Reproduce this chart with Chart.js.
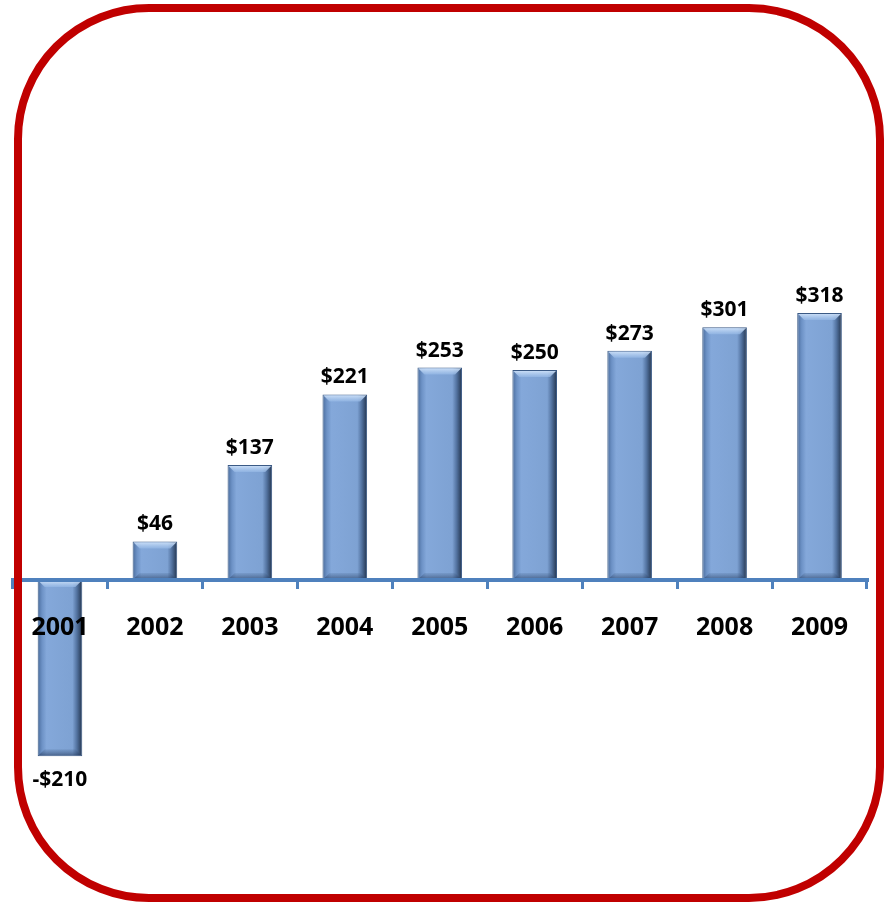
<!DOCTYPE html>
<html>
<head>
<meta charset="utf-8">
<script src="https://cdn.jsdelivr.net/npm/chart.js@4.4.1/dist/chart.umd.min.js"></script>
<style>
  html, body { margin: 0; padding: 0; background: #fff; }
  #wrap { position: relative; width: 889px; height: 903px; }
  #frame {
    position: absolute; left: 14px; top: 4px; width: 870px; height: 898px;
    box-sizing: border-box; border: 8px solid #c00000; border-radius: 135px;
    pointer-events: none;
  }
  canvas { position: absolute; left: 0; top: 0; }
</style>
</head>
<body>
<div id="wrap">
  <canvas id="profitChart" width="889" height="903"></canvas>
  <div id="frame"></div>
</div>
<script>
// --- DATA ---
const years = ['2001', '2002', '2003', '2004', '2005', '2006', '2007', '2008', '2009'];
const values = [-210, 46, 137, 221, 253, 250, 273, 301, 318];
const valueLabels = ['-$210', '$46', '$137', '$221', '$253', '$250', '$273', '$301', '$318'];

const BAR_PCT = 0.47;
const FONT = '"Open Sans", Lato, sans-serif';

// horizontal gradient so each bar looks bevelled
function barFill(ctx) {
    const chart = ctx.chart;
    const xs = chart.scales.x;
    if (!chart.chartArea || !xs || ctx.type !== 'data') return '#7fa2d3';
    const cx = xs.getPixelForValue(ctx.dataIndex);
    const half = xs.width / years.length * BAR_PCT / 2;
    const g = chart.ctx.createLinearGradient(cx - half, 0, cx + half, 0);
    g.addColorStop(0, '#4a6c9c');
    g.addColorStop(0.1, '#6d92c6');
    g.addColorStop(0.2, '#84a8da');
    g.addColorStop(0.78, '#7ea2d3');
    g.addColorStop(0.88, '#52729f');
    g.addColorStop(1, '#22334c');
    return g;
}

// top highlight and bottom shade on every bar
const bevelPlugin = {
    id: 'bevel',
    afterDatasetsDraw(chart) {
        const ctx = chart.ctx;
        chart.getDatasetMeta(0).data.forEach(bar => {
            const { x, y, base, width } = bar.getProps(['x', 'y', 'base', 'width'], true);
            const top = Math.min(y, base), bottom = Math.max(y, base);
            const l = x - width / 2, r = x + width / 2, d = 7;
            ctx.save();
            let g = ctx.createLinearGradient(0, top, 0, top + d);
            g.addColorStop(0, 'rgba(215,232,252,0.95)');
            g.addColorStop(1, 'rgba(150,185,230,0.7)');
            ctx.fillStyle = g;
            ctx.beginPath();
            ctx.moveTo(l + 1, top + 1);
            ctx.lineTo(r - 1, top + 1);
            ctx.lineTo(r - d, top + d);
            ctx.lineTo(l + d, top + d);
            ctx.closePath();
            ctx.fill();
            g = ctx.createLinearGradient(0, bottom - d, 0, bottom);
            g.addColorStop(0, 'rgba(60,90,130,0.15)');
            g.addColorStop(1, 'rgba(40,60,95,0.7)');
            ctx.fillStyle = g;
            ctx.beginPath();
            ctx.moveTo(l + d, bottom - d);
            ctx.lineTo(r - d, bottom - d);
            ctx.lineTo(r - 1, bottom - 1);
            ctx.lineTo(l + 1, bottom - 1);
            ctx.closePath();
            ctx.fill();
            ctx.restore();
        });
    }
};

// value labels above (or below, for the negative year) each bar
const valueLabelPlugin = {
    id: 'valueLabels',
    afterDatasetsDraw(chart) {
        const ctx = chart.ctx;
        ctx.save();
        ctx.font = 'bold 21px ' + FONT;
        ctx.fillStyle = '#000';
        ctx.textAlign = 'center';
        ctx.textBaseline = 'alphabetic';
        chart.getDatasetMeta(0).data.forEach((bar, i) => {
            const { x, y } = bar.getProps(['x', 'y'], true);
            const ty = values[i] >= 0 ? y - 11 : y + 30;
            ctx.fillText(valueLabels[i], x, ty);
        });
        ctx.restore();
    }
};

const ctx = document.getElementById('profitChart').getContext('2d');
const profitChart = new Chart(ctx, {
    type: 'bar',
    data: {
        labels: years,
        datasets: [{
            data: values,
            backgroundColor: barFill,
            borderColor: '#3b5a85',
            borderWidth: 1,
            barPercentage: BAR_PCT,
            categoryPercentage: 1,
            clip: false
        }]
    },
    options: {
        responsive: false,
        animation: false,
        layout: { padding: { top: 313, bottom: 236, left: 12.5, right: 22 } },
        plugins: {
            legend: { display: false },
            tooltip: { enabled: false }
        },
        scales: {
            x: {
                offset: true,
                border: { display: true, color: '#4f81bd', width: 4, z: 1 },
                grid: {
                    display: true,
                    drawOnChartArea: false,
                    drawTicks: true,
                    tickLength: 9,
                    color: '#4f81bd',
                    lineWidth: 3,
                    offset: true,
                    z: 1
                },
                ticks: {
                    z: 2,
                    color: '#000',
                    padding: 24,
                    maxRotation: 0,
                    font: { family: FONT, size: 25, weight: 'bold' }
                }
            },
            y: {
                display: false,
                min: 0,
                max: 318
            }
        }
    },
    plugins: [bevelPlugin, valueLabelPlugin]
});
</script>
</body>
</html>
